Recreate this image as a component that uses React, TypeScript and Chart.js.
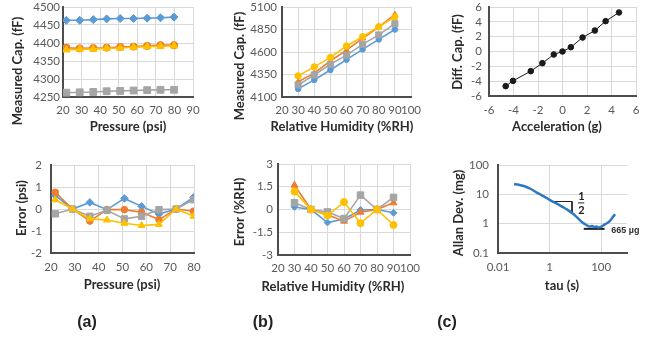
import React, { useEffect, useRef } from "react";
import { Chart, registerables } from "chart.js";
Chart.register(...registerables);

const W = 652;
const H = 337;
const YW = 60;
const XH = 30;

// ---------- data ----------
const pressurePsi = [21.8, 29.0, 36.3, 43.5, 50.8, 58.0, 65.3, 72.5, 79.8];
const capPressureBlue = [4463, 4463, 4465, 4467, 4468, 4468, 4469, 4470, 4472];
const capPressureOrange = [4387, 4385, 4386, 4387, 4389, 4390, 4392, 4394, 4394];
const capPressureGray = [4262, 4263, 4264, 4266, 4267, 4268, 4269, 4270, 4270];
const capPressureYellow = [4381, 4383, 4383, 4385, 4386, 4388, 4390, 4391, 4392];

const errPressureBlue = [0.62, 0, 0.3, -0.03, 0.48, 0.12, -0.23, 0, 0.53];
const errPressureOrange = [0.76, 0, -0.55, -0.03, -0.03, -0.15, -0.48, 0, -0.1];
const errPressureGray = [-0.22, 0, -0.33, -0.06, -0.45, -0.33, -0.03, 0, 0.42];
const errPressureYellow = [0.42, 0, -0.45, -0.5, -0.65, -0.75, -0.7, 0, -0.33];

const humidity = [30, 40, 50, 60, 70, 80, 90];
const capHumBlue = [4190, 4290, 4400, 4515, 4630, 4740, 4850];
const capHumOrange = [4270, 4365, 4500, 4620, 4752, 4878, 5015];
const capHumGray = [4235, 4345, 4463, 4565, 4685, 4790, 4915];
const capHumYellow = [4335, 4435, 4540, 4667, 4770, 4880, 4990];

const errHumBlue = [0.17, 0, -0.86, -0.63, -0.03, 0, -0.22];
const errHumOrange = [1.6, 0, -0.35, -0.77, -0.18, 0, 0.44];
const errHumGray = [0.45, 0, -0.16, -0.6, 0.95, 0, 0.8];
const errHumYellow = [1.18, 0, -0.4, 0.49, -0.9, 0, -1.02];

const accelG = [-4.64, -4.04, -2.59, -1.64, -0.71, 0, 0.68, 1.64, 2.64, 3.52, 4.61];
const diffCap = [-4.67, -3.96, -2.65, -1.57, -0.4, 0, 0.58, 1.89, 2.83, 4.09, 5.26];

const tau = [0.042, 0.06, 0.1, 0.18, 0.32, 0.6, 1, 2, 3.3, 5, 7.4, 10, 14.6, 20, 28, 35, 45, 55, 65, 75, 90, 115, 150, 209, 270, 345];
const allanDev = [22.6, 21.5, 19.3, 15.5, 11.5, 8.5, 6.5, 4.7, 3.65, 2.95, 2.29, 1.85, 1.35, 1.05, 0.88, 0.8, 0.83, 0.76, 0.8, 0.74, 0.76, 0.85, 0.98, 1.19, 1.6, 2.1];
const slopeTau = [1.3, 7.4, 7.4];
const slopeDev = [5.7, 5.7, 2.29];
const fracTau = [12.5, 22];
const fracDev = [5.1, 5.1];
const floorTau = [21, 135];
const floorDev = [0.665, 0.665];

// ---------- ticks ----------
const pressureTicksTop = [20, 30, 40, 50, 60, 70, 80, 90];
const capPressureTicks = [4250, 4300, 4350, 4400, 4450, 4500];
const pressureTicksBottom = [20, 30, 40, 50, 60, 70, 80];
const errPressureTicks = [-2, -1, 0, 1, 2];
const humidityTicks = [20, 30, 40, 50, 60, 70, 80, 90, 100];
const capHumTicks = [4100, 4350, 4600, 4850, 5100];
const errHumTicks = [-3, -1.5, 0, 1.5, 3];
const accelTicks = [-6, -4, -2, 0, 2, 4, 6];
const diffCapTicks = [-6, -4, -2, 0, 2, 4, 6];
const tauTicks = [0.01, 1, 100];
const allanTicks = [0.1, 1, 10, 100];

// ---------- style ----------
const BLUE = "#5B9BD5";
const ORANGE = "#ED7D31";
const GRAY = "#A5A5A5";
const YELLOW = "#FFC000";
const TITLE_FONT = "bold 13px Lato";
const TITLE_COLOR = "#2b2b2b";

type Box = { l: number; t: number; r: number; b: number };
type TextItem = {
  text: string;
  x: number;
  y: number;
  rot?: boolean;
  font?: string;
  color?: string;
  align?: CanvasTextAlign;
  data?: boolean;
};

function textPlugin(items: TextItem[]) {
  return {
    id: "pageText",
    afterDraw(chart: any) {
      const ctx = chart.ctx;
      for (const it of items) {
        let x = it.x;
        let y = it.y;
        if (it.data) {
          x = chart.scales.x.getPixelForValue(it.x);
          y = chart.scales.y.getPixelForValue(it.y);
        }
        ctx.save();
        ctx.font = it.font || TITLE_FONT;
        ctx.fillStyle = it.color || TITLE_COLOR;
        ctx.textAlign = it.align || "center";
        ctx.textBaseline = "middle";
        ctx.translate(x, y);
        if (it.rot) ctx.rotate(-Math.PI / 2);
        ctx.fillText(it.text, 0, 0);
        ctx.restore();
      }
    },
  };
}

function axis(pos: "x" | "y", type: string, min: number, max: number, ticks: number[], pad: number) {
  return {
    type,
    min,
    max,
    afterBuildTicks: (s: any) => {
      s.ticks = ticks.map((v) => ({ value: v }));
    },
    afterFit: (s: any) => {
      if (pos === "x") {
        s.height = XH;
        s.paddingLeft = 0;
        s.paddingRight = 0;
      } else {
        s.width = YW;
        s.paddingTop = 0;
        s.paddingBottom = 0;
      }
    },
    ticks: {
      autoSkip: false,
      maxRotation: 0,
      minRotation: 0,
      padding: pad,
      font: { family: "Lato", size: 11.5 },
      color: "#595959",
      callback: (v: any) => String(v),
    },
    grid: { color: "#D9D9D9", lineWidth: 1, drawTicks: false },
    border: { display: true, color: "#4d4d4d", width: 2 },
  };
}

function series(xs: number[], ys: number[], color: string, style: string, radius: number, width = 1.6, extra: any = {}) {
  return {
    data: xs.map((x, i) => ({ x, y: ys[i] })),
    borderColor: color,
    backgroundColor: color,
    borderWidth: width,
    pointStyle: style,
    pointRadius: radius,
    pointBorderWidth: 1,
    pointBorderColor: color,
    pointBackgroundColor: color,
    tension: 0,
    ...extra,
  };
}

function panel(box: Box, xs: any, ys: any, datasets: any[], texts: TextItem[]) {
  return {
    type: "line",
    data: { datasets },
    options: {
      responsive: false,
      animation: false,
      devicePixelRatio: 1,
      events: [],
      layout: {
        padding: { left: box.l - YW, top: box.t, right: W - box.r, bottom: H - box.b - XH },
      },
      scales: { x: xs, y: ys },
      plugins: { legend: { display: false }, tooltip: { enabled: false } },
    },
    plugins: [textPlugin(texts)],
  };
}

const LABEL_FONT = "bold 16px 'Liberation Sans', Arial, sans-serif";

const configs: (() => any)[] = [
  // (a) top
  () =>
    panel(
      { l: 63, t: 7, r: 193, b: 97 },
      axis("x", "linear", 20, 90, pressureTicksTop, 6),
      axis("y", "linear", 4250, 4500, capPressureTicks, 3),
      [
        series(pressurePsi, capPressureYellow, YELLOW, "triangle", 4.3),
        series(pressurePsi, capPressureGray, GRAY, "rect", 4.8),
        series(pressurePsi, capPressureOrange, ORANGE, "circle", 3.6),
        series(pressurePsi, capPressureBlue, BLUE, "rectRot", 4),
      ],
      [
        { text: "Pressure (psi)", x: 128, y: 127 },
        { text: "Measured Cap. (fF)", x: 18, y: 71, rot: true },
      ]
    ),
  // (b) top
  () =>
    panel(
      { l: 282, t: 7, r: 411, b: 97 },
      axis("x", "linear", 20, 100, humidityTicks, 6),
      axis("y", "linear", 4100, 5100, capHumTicks, 5),
      [
        series(humidity, capHumYellow, YELLOW, "circle", 3.2),
        series(humidity, capHumGray, GRAY, "rect", 4.3),
        series(humidity, capHumOrange, ORANGE, "triangle", 3.4),
        series(humidity, capHumBlue, BLUE, "circle", 2.8),
      ],
      [
        { text: "Relative Humidity (%RH)", x: 342, y: 127 },
        { text: "Measured Cap. (fF)", x: 240, y: 66, rot: true },
      ]
    ),
  // (c) top
  () =>
    panel(
      { l: 489, t: 7, r: 636, b: 96 },
      axis("x", "linear", -6, 6, accelTicks, 7),
      axis("y", "linear", -6, 6, diffCapTicks, 7),
      [series(accelG, diffCap, "#1a1a1a", "circle", 2.8, 1)],
      [
        { text: "Acceleration (g)", x: 557, y: 127 },
        { text: "Diff. Cap. (fF)", x: 458, y: 52, rot: true },
      ]
    ),
  // (a) bottom
  () =>
    panel(
      { l: 51, t: 165, r: 194, b: 253 },
      axis("x", "linear", 20, 80, pressureTicksBottom, 7),
      axis("y", "linear", -2, 2, errPressureTicks, 9),
      [
        series(pressurePsi, errPressureYellow, YELLOW, "triangle", 4),
        series(pressurePsi, errPressureGray, GRAY, "rect", 4.5),
        series(pressurePsi, errPressureOrange, ORANGE, "circle", 3.3),
        series(pressurePsi, errPressureBlue, BLUE, "rectRot", 3.8),
      ],
      [
        { text: "Pressure (psi)", x: 122, y: 285 },
        { text: "Error (psi)", x: 22, y: 208, rot: true },
        { text: "(a)", x: 87, y: 323, font: LABEL_FONT, color: "#222" },
      ]
    ),
  // (b) bottom
  () =>
    panel(
      { l: 278, t: 164, r: 410, b: 255 },
      axis("x", "linear", 20, 100, humidityTicks, 6),
      axis("y", "linear", -3, 3, errHumTicks, 5),
      [
        series(humidity, errHumYellow, YELLOW, "circle", 3.5),
        series(humidity, errHumGray, GRAY, "rect", 4.6),
        series(humidity, errHumOrange, ORANGE, "triangle", 4),
        series(humidity, errHumBlue, BLUE, "rectRot", 3.4),
      ],
      [
        { text: "Relative Humidity (%RH)", x: 333, y: 287 },
        { text: "Error (%RH)", x: 240, y: 212, rot: true },
        { text: "(b)", x: 263, y: 323, font: LABEL_FONT, color: "#222" },
      ]
    ),
  // (c) bottom
  () =>
    panel(
      { l: 498, t: 165, r: 627, b: 253 },
      axis("x", "logarithmic", 0.01, 1000, tauTicks, 7),
      axis("y", "logarithmic", 0.1, 100, allanTicks, 9),
      [
        series(tau, allanDev, "#2E78C2", "circle", 0, 2.5, { tension: 0.4, cubicInterpolationMode: "monotone" }),
        series(slopeTau, slopeDev, "#222", "circle", 0, 1),
        series(fracTau, fracDev, "#222", "circle", 0, 1),
        series(floorTau, floorDev, "#222", "circle", 0, 2),
      ],
      [
        { text: "tau (s)", x: 562, y: 286 },
        { text: "Allan Dev. (mg)", x: 459, y: 213, rot: true },
        { text: "1", x: 17.3, y: 8.4, data: true, font: "bold 11px Lato", color: "#222" },
        { text: "2", x: 17.3, y: 2.8, data: true, font: "bold 11px Lato", color: "#222" },
        { text: "665 µg", x: 245, y: 0.59, data: true, align: "left", font: "bold 9px 'Liberation Sans Narrow', 'Liberation Sans', sans-serif", color: "#333" },
        { text: "(c)", x: 447, y: 323, font: LABEL_FONT, color: "#222" },
      ]
    ),
];

function ChartLayer({ make }: { make: () => any }) {
  const ref = useRef<HTMLCanvasElement>(null);
  useEffect(() => {
    const chart = new Chart(ref.current as HTMLCanvasElement, make());
    return () => chart.destroy();
  }, []);
  return (
    <canvas
      ref={ref}
      width={W}
      height={H}
      style={{ position: "absolute", left: 0, top: 0, width: W, height: H }}
    />
  );
}

export default function App() {
  return (
    <div style={{ position: "absolute", left: 0, top: 0, width: W, height: H, background: "#fff" }}>
      {configs.map((make, i) => (
        <ChartLayer key={i} make={make} />
      ))}
    </div>
  );
}
